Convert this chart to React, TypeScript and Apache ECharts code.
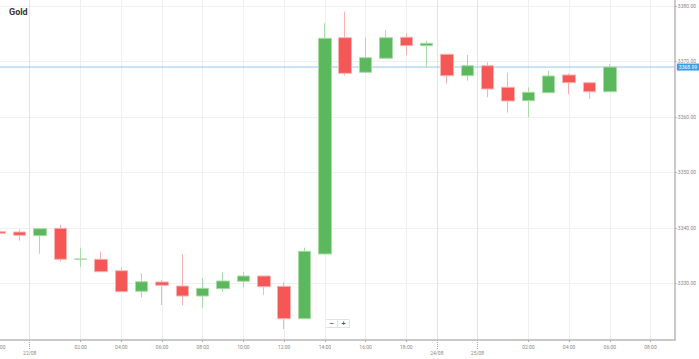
import React, { useEffect, useRef } from "react";
import * as echarts from "echarts";

// Hourly slots (weekend gap removed). Each candle: [slot, open, close, low, high]
const slots = [0, 1, 2, 3, 4, 5, 6, 7, 8, 9, 10, 11, 12, 13, 14, 15, 16, 17, 18, 19, 20, 21, 22, 23, 24, 25, 26, 27, 28, 29, 30];
const opens = [3339.3, 3339.24, 3338.58, 3339.91, 3334.34, 3334.32, 3332.26, 3328.55, 3330.23, 3329.5, 3327.7, 3329.02, 3330.35, 3331.31, 3329.45, 3323.61, 3335.28, 3374.28, 3368.04, 3370.57, 3374.36, 3372.84, 3371.29, 3367.43, 3369.23, 3365.34, 3362.92, 3364.36, 3367.56, 3366.17, 3364.54];
const closes = [3339.01, 3338.65, 3339.84, 3334.32, 3334.37, 3332.08, 3328.48, 3330.28, 3329.63, 3327.7, 3329.09, 3330.41, 3331.31, 3329.38, 3323.61, 3335.76, 3374.18, 3367.86, 3370.68, 3374.28, 3372.84, 3373.27, 3367.43, 3369.23, 3365.03, 3362.87, 3364.44, 3367.38, 3366.17, 3364.54, 3368.99];
const lows = [3338.9, 3337.67, 3335.33, 3333.89, 3332.99, 3332.03, 3328.45, 3327.47, 3326.08, 3326.02, 3325.59, 3328.48, 3329.27, 3327.94, 3321.75, 3323.58, 3335.2, 3367.43, 3368.0, 3370.53, 3371.16, 3368.87, 3366.06, 3366.53, 3363.54, 3360.76, 3359.93, 3364.32, 3364.08, 3363.23, 3364.5];
const highs = [3339.4, 3339.73, 3339.96, 3340.51, 3336.41, 3335.69, 3332.88, 3331.79, 3330.59, 3335.28, 3330.95, 3331.98, 3332.03, 3331.35, 3330.17, 3336.41, 3376.88, 3378.97, 3374.28, 3375.67, 3375.08, 3373.74, 3371.35, 3371.16, 3369.85, 3367.97, 3365.34, 3368.28, 3367.86, 3366.2, 3369.54];

const hourTickSlots = [0, 4, 6, 8, 10, 12, 14, 16, 18, 20, 26, 28, 30, 32];
const hourTickLabels = ["22:00", "02:00", "04:00", "06:00", "08:00", "10:00", "12:00", "14:00", "16:00", "18:00", "02:00", "04:00", "06:00", "08:00"];
const dayTickSlots = [1.5, 21.5, 23.5];
const dayTickLabels = ["22/08", "24/08", "25/08"];

const priceTicks = [3330, 3340, 3350, 3360, 3370, 3380];
const lastPrice = 3368.99;

const X_MIN = -0.268;
const X_MAX = 33.195;
const Y_MIN = 3319.77;
const Y_MAX = 3381.08;

export default function App() {
  const ref = useRef<HTMLDivElement>(null);

  useEffect(() => {
    if (!ref.current) return;
    const chart = echarts.init(ref.current, null, { renderer: "svg" });
    const candles = slots.map((s, i) => [s, opens[i], closes[i], lows[i], highs[i]]);
    const labelFont = { fontFamily: "Roboto", fontSize: 5, color: "#8a8a8a" };

    chart.setOption({
      animation: false,
      backgroundColor: "#ffffff",
      textStyle: { fontFamily: "Roboto" },
      grid: { left: 0, right: 23, top: 0, bottom: 19, containLabel: false },
      xAxis: [
        {
          type: "value",
          min: X_MIN,
          max: X_MAX,
          position: "bottom",
          axisLine: { show: true, onZero: false, lineStyle: { color: "#b8b8b8", width: 1.5 } },
          axisTick: { show: true, length: 2, customValues: hourTickSlots, lineStyle: { color: "#b0b0b0" } },
          axisLabel: {
            show: true,
            customValues: hourTickSlots,
            margin: 4,
            ...labelFont,
            formatter: (v: number) => {
              const k = hourTickSlots.indexOf(Math.round(v));
              return k >= 0 ? hourTickLabels[k] : "";
            },
          },
          splitLine: { show: true, lineStyle: { color: "#efefef", width: 1 } },
        },
        {
          type: "value",
          min: X_MIN,
          max: X_MAX,
          position: "bottom",
          axisLine: { show: false, onZero: false },
          axisTick: { show: true, length: 9, customValues: dayTickSlots, lineStyle: { color: "#a8a8a8", type: [1, 1] } },
          axisLabel: {
            show: true,
            customValues: dayTickSlots,
            margin: 10,
            ...labelFont,
            formatter: (v: number) => {
              let best = 0;
              dayTickSlots.forEach((d, k) => {
                if (Math.abs(d - v) < Math.abs(dayTickSlots[best] - v)) best = k;
              });
              return dayTickLabels[best];
            },
          },
          splitLine: { show: true, lineStyle: { color: "#e4e4e4", width: 1 } },
        },
      ],
      yAxis: {
        type: "value",
        position: "right",
        min: Y_MIN,
        max: Y_MAX,
        scale: true,
        axisLine: { show: true, onZero: false, lineStyle: { color: "#b8b8b8", width: 1.5 } },
        axisTick: { show: true, length: 2, customValues: priceTicks, lineStyle: { color: "#b0b0b0" } },
        axisLabel: {
          show: true,
          customValues: priceTicks,
          margin: 3,
          ...labelFont,
          formatter: (v: number) => v.toFixed(2),
        },
        splitLine: { show: true, lineStyle: { color: "#f0f0f0", width: 1 } },
      },
      series: [
        {
          type: "line",
          xAxisIndex: 0,
          yAxisIndex: 0,
          data: [
            [X_MIN, lastPrice],
            [X_MAX, lastPrice],
          ],
          symbol: "none",
          silent: true,
          z: 1,
          lineStyle: { color: "#92c8ef", width: 1, type: "solid" },
          itemStyle: { color: "#92c8ef" },
          endLabel: {
            show: true,
            distance: 2,
            formatter: () => lastPrice.toFixed(2),
            backgroundColor: "#3a9fe8",
            color: "#ffffff",
            fontFamily: "Roboto",
            fontSize: 5,
            padding: [1, 3, 1, 2],
          },
        },
        {
          type: "candlestick",
          xAxisIndex: 0,
          yAxisIndex: 0,
          data: candles,
          encode: { x: 0, y: [1, 2, 3, 4] },
          barWidth: 13,
          z: 2,
          itemStyle: {
            color: "#5cb85c",
            color0: "#f55757",
            borderColor: "#a9dca9",
            borderColor0: "#f8b2b2",
            borderWidth: 1,
          },
        },
      ],
      graphic: [
        {
          type: "text",
          left: 19,
          top: 7,
          style: { text: "Gold", fontFamily: "Roboto", fontWeight: "bold", fontSize: 9, fill: "#333333" },
        },
        {
          type: "group",
          left: 335,
          top: 317,
          children: [
            { type: "rect", shape: { x: 0, y: 0, width: 24, height: 8 }, style: { fill: "#ffffff", stroke: "#e2e2e2", lineWidth: 1 } },
            { type: "line", shape: { x1: 12, y1: 0, x2: 12, y2: 8 }, style: { stroke: "#e2e2e2", lineWidth: 1 } },
            { type: "text", x: 6, y: 4, style: { text: "−", fontSize: 7, fontWeight: "bold", fill: "#555555", align: "center", verticalAlign: "middle" } },
            { type: "text", x: 18, y: 4, style: { text: "+", fontSize: 7, fontWeight: "bold", fill: "#555555", align: "center", verticalAlign: "middle" } },
          ],
        },
      ],
    });

    return () => chart.dispose();
  }, []);

  return (
    <div
      ref={ref}
      style={{ position: "absolute", left: -10, top: 0, width: 709, height: 359 }}
    />
  );
}
